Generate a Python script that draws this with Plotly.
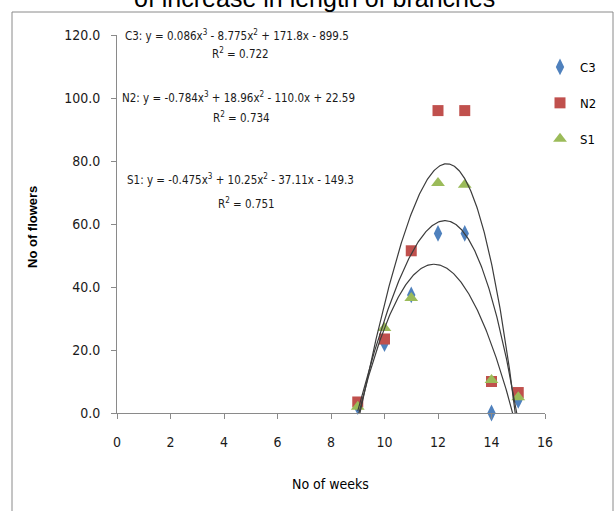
import numpy as np
import plotly.graph_objects as go

weeks = [9, 10, 11, 12, 13, 14, 15]
c3 = [2.0, 22.0, 37.5, 57.0, 57.0, 0.0, 4.0]
n2 = [3.5, 23.5, 51.5, 96.0, 96.0, 10.0, 6.5]
s1 = [2.0, 27.0, 36.5, 73.0, 72.5, 10.5, 5.0]

# trendline coefficients as printed on the chart (x^3, x^2, x, const)
c3_coef = [0.086, -8.775, 171.8, -899.5]
n2_coef = [-0.784, 18.96, -110.0, 22.59]
s1_coef = [-0.475, 10.25, -37.11, -149.3]

eq_texts = [
    ("C3: y = 0.086x<sup>3</sup> - 8.775x<sup>2</sup> + 171.8x - 899.5", "R<sup>2</sup> = 0.722"),
    ("N2: y = -0.784x<sup>3</sup> + 18.96x<sup>2</sup> - 110.0x + 22.59", "R<sup>2</sup> = 0.734"),
    ("S1: y = -0.475x<sup>3</sup> + 10.25x<sup>2</sup> - 37.11x - 149.3", "R<sup>2</sup> = 0.751"),
]

NARROW = "DejaVu Sans Condensed, Liberation Sans Narrow, sans-serif"
L, R, T, B = 117, 70, 35, 98
W, H = 615, 511
PW, PH = W - L - R, H - T - B

def px(x):
    return (x - L) / PW

def py(y):
    return (H - B - y) / PH

fig = go.Figure()
series = [("C3", c3, "#4F81BD", "diamond-tall", 12),
          ("N2", n2, "#C0504D", "square", 11),
          ("S1", s1, "#9BBB59", "triangle-up", 12)]
for name, vals, col, sym, sz in series:
    fig.add_trace(go.Scatter(x=weeks, y=vals, mode="markers", name=name,
                             legendgroup=name,
                             marker=dict(symbol=sym, size=sz, color=col, line=dict(width=0)),
                             cliponaxis=False))

xs = np.linspace(min(weeks), max(weeks), 300)
for coef in (c3_coef, n2_coef, s1_coef):
    fig.add_trace(go.Scatter(x=xs, y=np.polyval(coef, xs), mode="lines",
                             line=dict(color="#3c3c3c", width=1.2),
                             showlegend=False, hoverinfo="skip"))

anns = []
eq_y = [(35, 53), (97, 118), (179, 203)]
eq_x = [(237, 240), (238, 241), (240, 246)]
for (t1, t2), (y1, y2), (x1, x2) in zip(eq_texts, eq_y, eq_x):
    anns.append(dict(text=t1, x=px(x1), y=py(y1), xref="paper", yref="paper",
                     showarrow=False, xanchor="center", yanchor="middle",
                     font=dict(family=NARROW, size=11.5, color="#1a1a1a")))
    anns.append(dict(text=t2, x=px(x2), y=py(y2), xref="paper", yref="paper",
                     showarrow=False, xanchor="center", yanchor="middle",
                     font=dict(family=NARROW, size=11.5, color="#1a1a1a")))

anns.append(dict(text="of increase in length of branches", x=px(314), y=py(-2),
                 xref="paper", yref="paper", showarrow=False,
                 xanchor="center", yanchor="middle",
                 font=dict(family="Liberation Sans, Arial, sans-serif", size=25, color="#000000")))
anns.append(dict(text="No of weeks", x=px(330), y=py(484), xref="paper", yref="paper",
                 showarrow=False, xanchor="center", yanchor="middle",
                 font=dict(family=NARROW, size=14, color="#000000")))
anns.append(dict(text="<b>No of flowers</b>", x=px(32), y=py(227), xref="paper", yref="paper",
                 showarrow=False, xanchor="center", yanchor="middle", textangle=-90,
                 font=dict(family="Liberation Sans, Arial, sans-serif", size=13, color="#000000")))

fig.update_layout(
    width=W, height=H,
    margin=dict(l=L, r=R, t=T, b=B, pad=0),
    paper_bgcolor="white", plot_bgcolor="white",
    showlegend=True,
    legend=dict(x=px(540), y=py(52), xanchor="left", yanchor="top",
                font=dict(family=NARROW, size=13, color="#000000"),
                tracegroupgap=16, bgcolor="rgba(0,0,0,0)"),
    annotations=anns,
    shapes=[dict(type="rect", xref="paper", yref="paper",
                 x0=px(12), x1=px(613), y0=py(530), y1=py(12),
                 line=dict(color="#8a8a8a", width=1), layer="below")],
    xaxis=dict(range=[0, 16], dtick=2, tick0=0, showgrid=False, zeroline=False,
               showline=True, linecolor="#8a8a8a", linewidth=1,
               ticks="outside", ticklen=5, tickcolor="#8a8a8a",
               ticklabelstandoff=11,
               tickfont=dict(family=NARROW, size=14, color="#1a1a1a")),
    yaxis=dict(range=[0, 120], dtick=20, tick0=0, showgrid=False, zeroline=False,
               showline=True, linecolor="#8a8a8a", linewidth=1,
               ticks="outside", ticklen=5, tickcolor="#8a8a8a",
               tickformat=".1f", ticklabelstandoff=8,
               tickfont=dict(family=NARROW, size=14, color="#1a1a1a")),
)

fig.write_html("out.html")
